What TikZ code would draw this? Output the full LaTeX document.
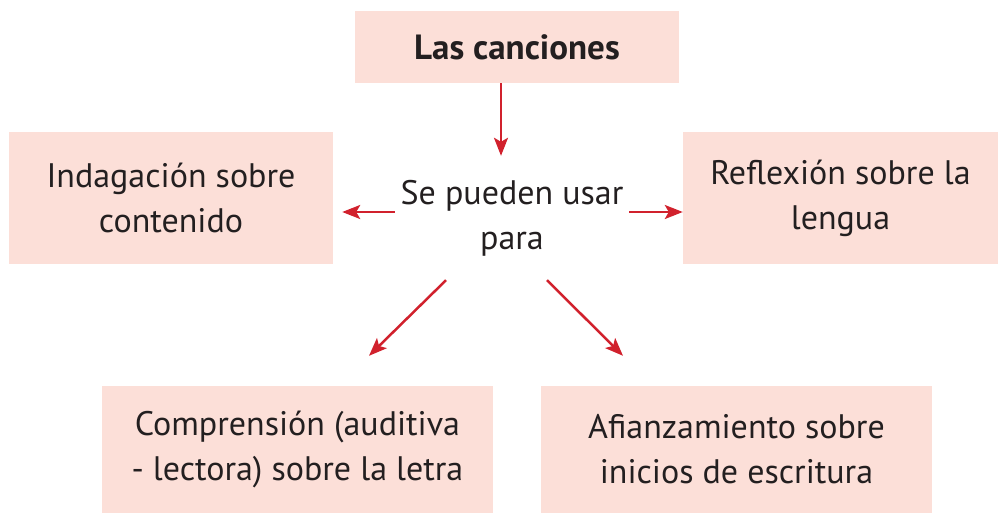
\documentclass[tikz,border=0pt]{standalone}
\usepackage{fontspec}
\setmainfont{PT Sans}
\usetikzlibrary{arrows.meta}
\definecolor{boxpink}{RGB}{252,223,216}
\definecolor{arrowred}{RGB}{209,33,45}
\definecolor{textdark}{RGB}{35,31,32}

\begin{document}
\begin{tikzpicture}[
    x=1pt, y=-1pt,
    %% Styles
    box/.style={
      rectangle, fill=boxpink, draw=none,
      inner sep=0pt, text centered, align=center,
      text=textdark, font=\fontsize{34}{45}\selectfont
    },
    hubtext/.style={
      rectangle, inner sep=0pt, align=center,
      minimum width=234pt, minimum height=124pt,
      text=textdark, font=\fontsize{34}{45}\selectfont
    },
    arrow/.style={-{Stealth[length=18pt, width=14pt, inset=4pt]},
      line width=2.5pt, draw=arrowred}
  ]

  \useasboundingbox (0,0) rectangle (998,513);

  %% -- Top: title
  \node[box, minimum width=324pt, minimum height=72pt,
    font=\fontsize{35}{45}\selectfont\bfseries] (canciones) at (517,47)
    {Las canciones};

  %% -- Middle: hub text
  \node[hubtext] (usar) at (512,218) {Se pueden usar\\para};

  %% -- Middle row: left / right
  \node[box, minimum width=324pt, minimum height=132pt] (indagacion) at (171,198)
    {Indagación sobre\\contenido};

  \node[box, minimum width=315pt, minimum height=132pt] (reflexion) at (840.5,198)
    {Reflexión sobre la\\lengua};

  %% -- Bottom row
  \node[box, minimum width=391pt, minimum height=127pt] (comprension) at (297.5,449.5)
    {Comprensión (auditiva\\- lectora) sobre la letra};

  \node[box, minimum width=391pt, minimum height=127pt] (afianzamiento) at (736.5,449.5)
    {Afianzamiento sobre\\inicios de escritura};

  %% -- Arrows
  \draw[arrow] ([xshift=-16pt]canciones.south) -- ([xshift=-11pt]usar.north);

  \draw[arrow] ([yshift=6pt]usar.west) -- ([xshift=9pt,yshift=-14pt]indagacion.east);
  \draw[arrow] ([yshift=6pt]usar.east) -- ([yshift=-14pt]reflexion.west);

  \draw[arrow] ([xshift=-66pt]usar.south)
    -- ([xshift=71.5pt,yshift=30pt]comprension.north);
  \draw[arrow] ([xshift=35pt]usar.south)
    -- ([xshift=-113.5pt,yshift=30pt]afianzamiento.north);

\end{tikzpicture}
\end{document}
